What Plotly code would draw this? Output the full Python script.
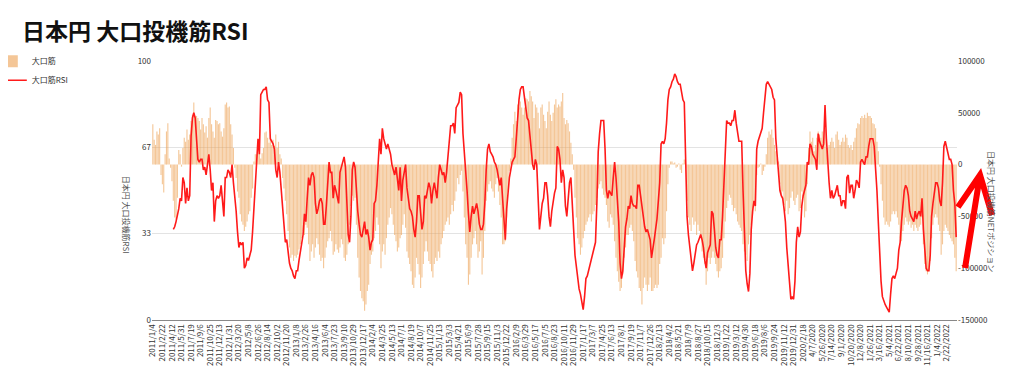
import plotly.graph_objects as go

# ---------------- data ----------------
tick_labels = [
    "2011/1/4", "2011/2/22", "2011/4/12", "2011/5/31", "2011/7/19", "2011/9/6", "2011/10/25", "2011/12/13",
    "2012/1/31", "2012/3/20", "2012/5/8", "2012/6/26", "2012/8/14", "2012/10/2", "2012/11/20",
    "2013/1/8", "2013/2/26", "2013/4/16", "2013/6/4", "2013/7/23", "2013/9/10", "2013/10/29", "2013/12/17",
    "2014/2/4", "2014/3/25", "2014/5/13", "2014/7/1", "2014/8/19", "2014/10/7", "2014/11/25",
    "2015/1/13", "2015/3/3", "2015/4/21", "2015/6/9", "2015/7/28", "2015/9/15", "2015/11/3", "2015/12/22",
    "2016/2/9", "2016/3/29", "2016/5/17", "2016/7/5", "2016/8/23", "2016/10/11", "2016/11/29",
    "2017/1/17", "2017/3/7", "2017/4/25", "2017/6/13", "2017/8/1", "2017/9/19", "2017/11/7", "2017/12/26",
    "2018/2/13", "2018/4/2", "2018/5/21", "2018/7/9", "2018/8/27", "2018/10/15", "2018/12/3",
    "2019/1/22", "2019/3/12", "2019/4/30", "2019/6/18", "2019/8/6", "2019/9/24", "2019/11/12", "2019/12/31",
    "2020/2/18", "4/7/2020", "5/26/2020", "7/14/2020", "9/1/2020", "10/20/2020", "12/8/2020",
    "1/26/2021", "3/16/2021", "5/4/2021", "6/22/2021", "8/10/2021", "9/28/2021", "11/16/2021",
    "1/4/2022", "2/22/2022",
]

# 大口筋 net position (thousand contracts), weekly
net_k = [
    39, 24, 19, 32, 29, 35, -10, -19, -27, 10,
    32, 40, 6, -3, -16, -35, -51, -53, -32, 14,
    10, -2, 16, 26, 22, 34, 24, 29, 42, 48,
    60, 47, 47, 45, 42, 34, 45, 39, 31, 37,
    26, 45, 55, 39, 32, 26, 43, 42, 39, 40,
    32, 27, 35, 58, 60, 55, 56, 39, 29, 16,
    -3, -13, -26, -32, -48, -55, -58, -64, -60, -55,
    -48, -45, -32, -23, 3, 10, 10, 21, 18, 6,
    11, 16, 31, 32, 26, 21, 29, 19, 24, 18,
    29, 16, 22, 10, 6, -13, -23, -35, -48, -64,
    -80, -90, -87, -93, -88, -90, -87, -82, -77, -71,
    -64, -68, -58, -61, -77, -93, -84, -77, -90, -80,
    -71, -77, -87, -93, -90, -100, -90, -80, -74, -71,
    -64, -74, -87, -84, -77, -82, -85, -80, -72, -77,
    -90, -93, -87, -77, -58, -40, -30, -35, -32, -58,
    -90, -109, -122, -129, -132, -141, -135, -122, -116, -96,
    -87, -84, -71, -64, -51, -58, -77, -100, -84, -77,
    -87, -71, -58, -51, -42, -48, -58, -68, -74, -84,
    -80, -71, -68, -58, -48, -61, -84, -90, -96, -103,
    -116, -119, -109, -90, -96, -106, -119, -109, -96, -84,
    -74, -84, -93, -96, -103, -109, -96, -90, -93, -84,
    -90, -77, -71, -64, -58, -55, -51, -58, -48, -39,
    -45, -35, -26, -13, -19, -10, -6, -26, -51, -77,
    -90, -116, -106, -90, -77, -71, -64, -77, -90, -84,
    -74, -106, -90, -64, -35, -26, -19, -16, -23, -26,
    -32, -19, -13, -26, -39, -51, -77, -77, -74, -51,
    -26, -6, 6, 26, 39, 51, 42, 58, 55, 61,
    55, 48, 55, 64, 63, 61, 71, 66, 61, 45,
    58, 55, 50, 35, 55, 58, 48, 42, 35, 51,
    61, 48, 42, 50, 58, 63, 55, 58, 56, 61,
    69, 45, 39, 43, 40, 32, 21, 10, -5, -32,
    -51, -71, -77, -87, -80, -71, -64, -58, -55, -51,
    -48, -55, -48, -45, -39, -32, -23, -19, -16, -23,
    -29, -32, -39, -55, -61, -48, -51, -58, -74, -90,
    -103, -113, -122, -119, -106, -90, -80, -68, -68, -61,
    -58, -64, -74, -93, -103, -109, -119, -122, -135, -119,
    -109, -116, -122, -116, -109, -122, -122, -119, -116, -119,
    -116, -96, -90, -71, -77, -71, -45, -19, -3, 3,
    3, 1, 2, -3, -2, 1, -5, -8, 1, 5,
    -3, -35, -51, -58, -64, -51, -58, -55, -68, -58,
    -64, -71, -84, -90, -96, -116, -103, -90, -96, -90,
    -84, -90, -96, -103, -109, -103, -100, -90, -71, -55,
    -42, -35, -29, -32, -39, -45, -42, -48, -55, -58,
    -61, -64, -77, -84, -87, -93, -77, -68, -58, -48,
    -39, -45, -10, -3, -2, 1, -10, -6, -2, 10,
    26, 32, 29, 34, 26, 19, 13, 6, 3, -19,
    -29, -26, -39, -45, -35, -48, -42, -32, -26, -35,
    -39, -32, -29, -45, -42, -26, -32, -51, -45, -19,
    16, 32, 22, 26, 13, 19, 26, 32, 29, 26,
    32, 22, 34, 16, 16, 19, 22, 26, 22, 16,
    29, 32, 24, 19, 22, 26, 22, 29, 26, 19,
    16, 19, 14, 22, 26, 35, 40, 39, 45, 47,
    45, 48, 45, 50, 47, 47, 45, 40, 39, 35,
    22, 13, -2, -19, -35, -51, -58, -55, -58, -60,
    -55, -48, -45, -48, -45, -51, -58, -71, -74, -64,
    -58, -51, -55, -58, -55, -61, -58, -64, -58, -61,
    -64, -60, -58, -51, -77, -96, -103, -106, -103, -93,
    -71, -58, -51, -48, -51, -58, -64, -87, -77, -64,
    -58, -61, -64, -68, -71, -74, -77, -90, -103,
]

rsi_start = 15  # RSI begins at week index 15
rsi = [
    35, 36, 38, 40, 43, 47, 46, 55, 53, 45,
    51, 46, 48, 71, 78, 80, 78, 70, 62, 61,
    62, 62, 58, 59, 56, 60, 64, 58, 50, 53,
    38, 46, 48, 47, 48, 52, 45, 40, 55, 55,
    58, 57, 55, 60, 53, 48, 42, 34, 28, 30,
    29, 30, 20, 21, 24, 23, 25, 27, 34, 44,
    52, 60, 70, 64, 87, 88, 89, 89, 90, 85,
    84, 70, 69, 68, 66, 58, 55, 61, 57, 50,
    43, 36, 30, 31, 25, 22, 20, 19, 17, 16,
    19, 19, 23, 26, 30, 33, 41, 38, 47, 55,
    52, 56, 57, 55, 45, 41, 43, 46, 47, 45,
    37, 37, 44, 52, 61, 57, 57, 47, 52, 50,
    48, 45, 57, 59, 61, 63, 59, 47, 33, 30,
    40, 58, 61, 59, 50, 42, 37, 33, 32, 36,
    38, 33, 35, 32, 27, 30, 31, 45, 46, 52,
    60, 70, 64, 74, 70, 68, 66, 68, 66, 64,
    60, 58, 56, 59, 54, 50, 59, 46, 54, 57,
    60, 51, 47, 43, 42, 40, 35, 32, 38, 48,
    48, 42, 35, 38, 48, 47, 50, 53, 51, 45,
    50, 53, 50, 47, 55, 60, 58, 56, 57, 53,
    57, 63, 70, 75, 75, 76, 72, 82, 83, 84,
    88, 87, 72, 65, 60, 50, 41, 34, 40, 44,
    41, 43, 45, 42, 37, 35, 35, 37, 45, 58,
    66, 68, 65, 64, 63, 61, 60, 58, 54, 52,
    55, 48, 40, 31, 43, 51, 55, 58, 61, 62,
    63, 70, 78, 85, 89, 90, 90, 86, 80, 78,
    77, 72, 67, 60, 58, 62, 60, 46, 35, 40,
    45, 47, 53, 53, 48, 40, 36, 42, 46, 49,
    51, 67, 66, 62, 53, 58, 55, 44, 40, 48,
    53, 55, 47, 35, 25, 20, 15, 12, 10, 6,
    4, 9, 16, 17, 19, 22, 24, 25, 28, 30,
    45, 65, 72, 77, 77, 77, 66, 50, 47, 50,
    49, 48, 55, 61, 55, 48, 38, 22, 16, 19,
    30, 36, 39, 44, 43, 48, 45, 44, 44, 43,
    52, 52, 48, 44, 39, 36, 34, 35, 33, 31,
    24, 27, 31, 35, 39, 46, 53, 68, 69, 68,
    70, 76, 85, 89, 90, 92, 93, 95, 94, 92,
    91, 91, 88, 85, 84, 60, 40, 33, 28, 22,
    19, 22, 25, 29, 30, 32, 33, 31, 28, 23,
    20, 26, 28, 29, 42, 41, 35, 28, 25, 24,
    31, 31, 40, 55, 68, 77, 76, 76, 75, 77,
    77, 81, 76, 72, 69, 69, 69, 50, 30, 19,
    14, 11, 18, 35, 42, 46, 44, 66, 69, 71,
    72, 74, 80, 87, 91, 92, 91, 90, 89, 86,
    85, 70, 64, 58, 50, 48, 47, 43, 38, 28,
    20, 12, 8, 9, 8, 15, 30, 36, 32, 34,
    44, 48, 50, 52, 61, 60, 68, 67, 64, 63,
    62, 58, 72, 69, 67, 66, 68, 83, 70, 60,
    53, 47, 50, 47, 48, 50, 52, 48, 48, 44,
    46, 46, 43, 55, 56, 49, 52, 52, 47, 50,
    54, 53, 51, 61, 62, 61, 60, 63, 63, 67,
    70, 70, 70, 67, 59, 50, 38, 25, 15, 9,
    7, 6, 5, 4, 3, 10, 16, 17, 16, 18,
    20, 27, 30, 38, 45, 50, 52, 51, 48, 42,
    40, 39, 38, 42, 39, 41, 42, 40, 47, 35,
    25, 20, 19, 19, 25, 40, 45, 50, 53, 53,
    51, 46, 44, 53, 67, 69, 67, 64, 62, 62,
    60, 50, 45, 32,
]

net = [v * 1000 for v in net_k]
weeks = list(range(len(net)))
rsi_weeks = list(range(rsi_start, rsi_start + len(rsi)))
tick_vals = [7 * k for k in range(len(tick_labels))]

font_family = "Noto Sans CJK JP, Noto Sans, sans-serif"

fig = go.Figure()
fig.add_trace(go.Bar(
    x=weeks, y=net, name="大口筋", yaxis="y",
    marker=dict(color="rgba(236,160,82,0.6)", line=dict(width=0)),
))
fig.add_trace(go.Scatter(
    x=rsi_weeks, y=rsi, name="大口筋RSI", yaxis="y2", mode="lines",
    line=dict(color="#ff1a1a", width=1.6),
))

# hand-drawn red arrow on the right side (paper coordinates)
arrow_path = "M 1.0012 0.436 L 1.0286 0.560 L 1.0435 0.405 M 1.0100 0.201 L 1.0286 0.560"

fig.update_layout(
    width=1016, height=372,
    margin=dict(l=144, r=67, t=53, b=60, autoexpand=False),
    paper_bgcolor="white", plot_bgcolor="white",
    font=dict(family=font_family, size=8, color="#333"),
    bargap=0.18,
    title=dict(text="<b>日本円 大口投機筋RSI</b>", x=0.0138, xref="container", xanchor="left",
               y=0.935, yref="container", yanchor="middle",
               font=dict(size=23, color="#111", family=font_family)),
    showlegend=True,
    legend=dict(x=-0.199, y=1.055, xanchor="left", yanchor="top",
                font=dict(size=8, color="#333"), bgcolor="rgba(0,0,0,0)",
                tracegroupgap=0, itemwidth=30),
    xaxis=dict(range=[-0.6, len(net) - 0.4], tickmode="array", tickvals=tick_vals,
               ticktext=tick_labels, tickangle=-90, tickfont=dict(size=8, color="#333"),
               showgrid=False, zeroline=False, showline=True, linecolor="#888", linewidth=1,
               ticks="", automargin=False),
    yaxis=dict(side="right", range=[-150000, 100000], tickmode="array",
               tickvals=[-150000, -100000, -50000, 0, 50000, 100000],
               ticktext=["-150000", "-100000", "-50000", "0", "50000", "100000"],
               showgrid=False, zeroline=False, tickfont=dict(size=8, color="#333"), ticks="",
               automargin=False),
    yaxis2=dict(side="left", overlaying="y", range=[0, 100], tickmode="array",
                tickvals=[0, 100 / 3, 200 / 3, 100], ticktext=["0", "33", "67", "100"],
                showgrid=True, gridcolor="#e3e3e3", gridwidth=1, zeroline=False,
                tickfont=dict(size=8, color="#333"), ticks="", automargin=False),
    annotations=[
        dict(text="日本円 大口投機筋RSI", x=-0.04, y=0.405, xref="paper", yref="paper",
             textangle=90, showarrow=False, font=dict(size=8, color="#555")),
        dict(text="日本円 大口投機筋NETポジション", x=1.053, y=0.42, xref="paper", yref="paper",
             textangle=90, showarrow=False, font=dict(size=8, color="#555")),
    ],
    shapes=[
        dict(type="path", path=arrow_path, xref="paper", yref="paper",
             line=dict(color="#ff0000", width=6)),
    ],
)

fig.write_html("out.html")
